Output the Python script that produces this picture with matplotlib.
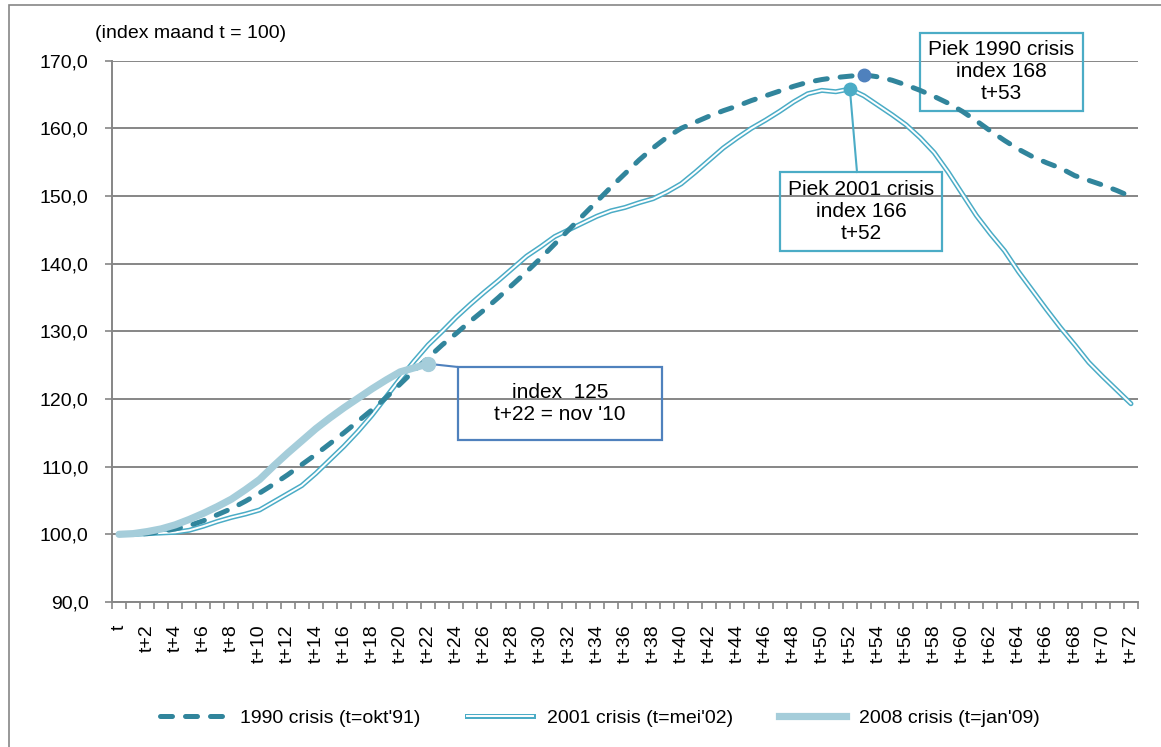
import numpy as np
import matplotlib
matplotlib.use("Agg")
from matplotlib import pyplot as plt
from matplotlib.lines import Line2D
from matplotlib.patches import Rectangle

plt.rcParams['font.family'] = ['Liberation Sans', 'DejaVu Sans']

# maanden t .. t+72
months = list(range(73))
tick_labels = ['t' if m == 0 else f't+{m}' for m in months]

crisis_1990 = [100.0, 100.0, 100.1, 100.4, 100.8, 101.3, 102.0, 102.9, 103.8, 104.9,
               106.1, 107.4, 108.8, 110.3, 111.8, 113.4, 115.0, 116.7, 118.4, 120.2,
               122.2, 124.2, 126.1, 128.0, 129.7, 131.5, 133.2, 135.0, 136.9, 138.8,
               140.8, 142.9, 145.0, 147.1, 149.2, 151.3, 153.3, 155.3, 157.1, 158.7,
               160.0, 160.9, 161.8, 162.6, 163.3, 164.1, 164.8, 165.5, 166.2, 166.8,
               167.2, 167.5, 167.7, 167.9, 167.6, 167.1, 166.4, 165.6, 164.7, 163.7,
               162.5, 161.1, 159.6, 158.2, 156.9, 155.8, 154.9, 154.1, 153.0, 152.3,
               151.6, 150.8, 149.9]

crisis_2001 = [100.0, 100.0, 100.1, 100.2, 100.3, 100.6, 101.2, 101.9, 102.5, 103.0,
               103.6, 104.8, 106.0, 107.2, 109.0, 111.0, 113.0, 115.2, 117.6, 120.3,
               123.0, 125.6, 128.0, 130.0, 132.1, 134.0, 135.8, 137.5, 139.3, 141.1,
               142.5, 144.0, 145.0, 146.0, 147.0, 147.8, 148.3, 149.0, 149.6, 150.6,
               151.8, 153.5, 155.3, 157.1, 158.6, 160.0, 161.2, 162.5, 163.9, 165.1,
               165.6, 165.4, 165.8, 164.8, 163.4, 162.0, 160.5, 158.6, 156.4, 153.5,
               150.3, 147.1, 144.4, 141.9, 138.8, 136.0, 133.2, 130.5, 128.0, 125.4,
               123.3, 121.3, 119.3]

crisis_2008 = [100.0, 100.1, 100.4, 100.8, 101.4, 102.2, 103.1, 104.1, 105.2, 106.6,
               108.1, 110.1, 112.0, 113.8, 115.6, 117.2, 118.7, 120.1, 121.5, 122.8,
               124.0, 124.6, 125.2]

y_ticks = [90, 100, 110, 120, 130, 140, 150, 160, 170]

c1990 = '#31859C'
c2001 = '#4BACC6'
c2008 = '#A5CDDA'
grid_c = '#868686'

W, H = 1161, 747
fig = plt.figure(figsize=(W / 100, H / 100), dpi=100)
ax = fig.add_axes([112 / W, 1 - 602 / H, (1138 - 112) / W, (602 - 60.6) / H])

# rand om de hele grafiek
fig.add_artist(Rectangle((8.5 / W, -0.05), 1.2, 1 - 5 / H + 0.05, transform=fig.transFigure,
                         fill=False, edgecolor=grid_c, lw=1.2))

x08 = months[:len(crisis_2008)]
ax.plot(months, crisis_1990, color=c1990, lw=3.6, linestyle=(0, (2.4, 2.6)),
        dash_capstyle='round', zorder=4)
ax.plot(months, crisis_2001, color=c2001, lw=3.6, solid_capstyle='round', zorder=3)
ax.plot(months, crisis_2001, color='white', lw=1.4, solid_capstyle='round', zorder=3)
ax.plot(x08, crisis_2008, color=c2008, lw=5.2, solid_capstyle='round', zorder=5)

ax.set_xlim(-0.5, 72.5)
ax.set_ylim(90, 170)
ax.set_yticks(y_ticks)
ax.set_yticklabels([f'{v:.1f}'.replace('.', ',') for v in y_ticks], fontsize=14)
ax.set_xticks(months[::2])
ax.set_xticklabels(tick_labels[::2], rotation=90, fontsize=14)
ax.set_xticks(np.arange(-0.5, 73, 1), minor=True)
ax.tick_params(axis='x', which='major', length=0, pad=16)
ax.tick_params(axis='x', which='minor', length=5, color=grid_c, width=1.2)
ax.tick_params(axis='y', length=5, color=grid_c, width=1.2, pad=12)
ax.grid(axis='y', color=grid_c, lw=1.4)
ax.set_axisbelow(True)
for side in ['top', 'right']:
    ax.spines[side].set_visible(False)
for side in ['left', 'bottom']:
    ax.spines[side].set_color(grid_c)
    ax.spines[side].set_linewidth(1.4)


def px(x, y):
    # pixel -> data
    return (x - 112) / ((1138 - 112) / 73) - 0.5, 170 - (y - 60.6) / ((602 - 60.6) / 80)


# piek 1990
i90 = int(np.argmax(crisis_1990))
ax.plot(i90, crisis_1990[i90], 'o', color='#4F81BD', ms=9, zorder=6)
x0, y0 = px(920, 33)
x1, y1 = px(1083, 111)
ax.add_patch(Rectangle((x0, y1), x1 - x0, y0 - y1, fill=False,
                       edgecolor=c2001, lw=1.6, clip_on=False, zorder=2))
ax.text((x0 + x1) / 2, (y0 + y1) / 2, f'Piek 1990 crisis\nindex {round(crisis_1990[i90])}\nt+{i90}',
        ha='center', va='center', fontsize=15, linespacing=1.2, zorder=8)

# piek 2001
i01 = int(np.argmax(crisis_2001))
ax.plot(i01, crisis_2001[i01], 'o', color=c2001, ms=9, zorder=6)
x0, y0 = px(780, 172)
x1, y1 = px(942, 251)
ax.plot([i01, px(857, 0)[0]], [crisis_2001[i01], y0], color=c2001, lw=1.5, zorder=6)
ax.add_patch(Rectangle((x0, y1), x1 - x0, y0 - y1, fill=False,
                       edgecolor=c2001, lw=1.6, zorder=2))
ax.text((x0 + x1) / 2, (y0 + y1) / 2, f'Piek 2001 crisis\nindex {round(crisis_2001[i01])}\nt+{i01}',
        ha='center', va='center', fontsize=15, linespacing=1.2, zorder=8)

# laatste punt 2008
i08 = len(crisis_2008) - 1
ax.plot(i08, crisis_2008[i08], 'o', color=c2008, ms=10, zorder=6)
x0, y0 = px(458, 367)
x1, y1 = px(662, 440)
ax.plot([i08, x0], [crisis_2008[i08], y0], color='#4F81BD', lw=1.5, zorder=2)
ax.add_patch(Rectangle((x0, y1), x1 - x0, y0 - y1, fill=False,
                       edgecolor='#4F81BD', lw=1.6, zorder=2))
ax.text((x0 + x1) / 2, (y0 + y1) / 2, f'index  {round(crisis_2008[i08])}\nt+{i08} = nov \'10',
        ha='center', va='center', fontsize=15, linespacing=1.2, zorder=8)

fig.text(95 / W, 1 - 33 / H, '(index maand t = 100)', fontsize=14, va='center', ha='left')

h1 = Line2D([], [], color=c1990, lw=3.6, linestyle=(0, (2.4, 2.6)), dash_capstyle='round')
h2a = Line2D([], [], color=c2001, lw=3.6)
h2b = Line2D([], [], color='white', lw=1.4)
h3 = Line2D([], [], color=c2008, lw=5.2)
fig.legend([h1, (h2a, h2b), h3],
           ["1990 crisis (t=okt'91)", "2001 crisis (t=mei'02)", "2008 crisis (t=jan'09)"],
           loc='center', bbox_to_anchor=(600 / W, 1 - 718 / H), ncol=3, frameon=False,
           fontsize=14, handlelength=3.4, handletextpad=0.7, columnspacing=2.4)

fig.savefig('out.png', dpi=100)
